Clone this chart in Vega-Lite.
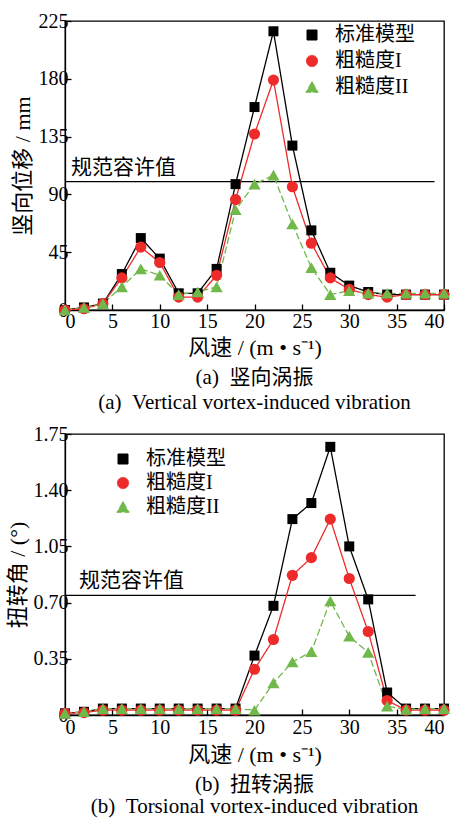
{
  "$schema": "https://vega.github.io/schema/vega-lite/v6.json",
  "padding": {"left": 5, "top": 10, "right": 5, "bottom": 2},
  "background": "white",
  "spacing": 9,
  "config": {
    "view": {"stroke": "black", "strokeWidth": 1.3},
    "axis": {
      "grid": false, "domainColor": "black", "domainWidth": 1.3, "tickColor": "black", "tickWidth": 1.3,
      "tickSize": -6, "labelColor": "black", "titleColor": "black",
      "labelFont": "Liberation Serif", "labelFontSize": 20, "labelPadding": 3,
      "titleFont": "Liberation Serif, Noto Sans CJK SC", "titleFontSize": 22, "titleFontWeight": "normal"
    },
    "axisX": {"labelPadding": 7, "titlePadding": 6},
    "axisY": {"titlePadding": 4},
    "legend": {
      "orient": "none", "title": null, "padding": 0,
      "labelFont": "Liberation Serif, Noto Sans CJK SC", "labelFontSize": 20, "labelColor": "black",
      "symbolSize": 49, "labelOffset": 13, "symbolStrokeWidth": 1
    },
    "title": {"orient": "bottom", "anchor": "middle", "font": "Liberation Serif, Noto Sans CJK SC", "fontSize": 21, "fontWeight": "normal", "color": "black",
      "subtitleFont": "Liberation Serif", "subtitleFontSize": 21, "subtitleColor": "black", "subtitlePadding": 4, "offset": 9}
  },
  "datasets": {
    "vert": [
      {"v":0,"s":"标准模型","d":0},{"v":2,"s":"标准模型","d":2},{"v":4,"s":"标准模型","d":5},{"v":6,"s":"标准模型","d":28},{"v":8,"s":"标准模型","d":56},{"v":10,"s":"标准模型","d":40},{"v":12,"s":"标准模型","d":13},{"v":14,"s":"标准模型","d":13},{"v":16,"s":"标准模型","d":32},{"v":18,"s":"标准模型","d":98},{"v":20,"s":"标准模型","d":158},{"v":22,"s":"标准模型","d":217},{"v":24,"s":"标准模型","d":128},{"v":26,"s":"标准模型","d":62},{"v":28,"s":"标准模型","d":29},{"v":30,"s":"标准模型","d":19},{"v":32,"s":"标准模型","d":14},{"v":34,"s":"标准模型","d":12},{"v":36,"s":"标准模型","d":12},{"v":38,"s":"标准模型","d":12},{"v":40,"s":"标准模型","d":12},
      {"v":0,"s":"粗糙度I","d":0},{"v":2,"s":"粗糙度I","d":1},{"v":4,"s":"粗糙度I","d":5},{"v":6,"s":"粗糙度I","d":25},{"v":8,"s":"粗糙度I","d":49},{"v":10,"s":"粗糙度I","d":37},{"v":12,"s":"粗糙度I","d":10},{"v":14,"s":"粗糙度I","d":10},{"v":16,"s":"粗糙度I","d":27},{"v":18,"s":"粗糙度I","d":86},{"v":20,"s":"粗糙度I","d":137},{"v":22,"s":"粗糙度I","d":179},{"v":24,"s":"粗糙度I","d":96},{"v":26,"s":"粗糙度I","d":52},{"v":28,"s":"粗糙度I","d":25},{"v":30,"s":"粗糙度I","d":16},{"v":32,"s":"粗糙度I","d":12},{"v":34,"s":"粗糙度I","d":10},{"v":36,"s":"粗糙度I","d":12},{"v":38,"s":"粗糙度I","d":12},{"v":40,"s":"粗糙度I","d":12},
      {"v":0,"s":"粗糙度II","d":0},{"v":2,"s":"粗糙度II","d":2},{"v":4,"s":"粗糙度II","d":5},{"v":6,"s":"粗糙度II","d":18},{"v":8,"s":"粗糙度II","d":32},{"v":10,"s":"粗糙度II","d":27},{"v":12,"s":"粗糙度II","d":12},{"v":14,"s":"粗糙度II","d":14},{"v":16,"s":"粗糙度II","d":18},{"v":18,"s":"粗糙度II","d":78},{"v":20,"s":"粗糙度II","d":98},{"v":22,"s":"粗糙度II","d":105},{"v":24,"s":"粗糙度II","d":67},{"v":26,"s":"粗糙度II","d":33},{"v":28,"s":"粗糙度II","d":12},{"v":30,"s":"粗糙度II","d":15},{"v":32,"s":"粗糙度II","d":13},{"v":34,"s":"粗糙度II","d":13},{"v":36,"s":"粗糙度II","d":13},{"v":38,"s":"粗糙度II","d":13},{"v":40,"s":"粗糙度II","d":13}
    ],
    "tors": [
      {"v":0,"s":"标准模型","d":0.01},{"v":2,"s":"标准模型","d":0.02},{"v":4,"s":"标准模型","d":0.04},{"v":6,"s":"标准模型","d":0.04},{"v":8,"s":"标准模型","d":0.04},{"v":10,"s":"标准模型","d":0.04},{"v":12,"s":"标准模型","d":0.04},{"v":14,"s":"标准模型","d":0.04},{"v":16,"s":"标准模型","d":0.04},{"v":18,"s":"标准模型","d":0.04},{"v":20,"s":"标准模型","d":0.37},{"v":22,"s":"标准模型","d":0.68},{"v":24,"s":"标准模型","d":1.22},{"v":26,"s":"标准模型","d":1.32},{"v":28,"s":"标准模型","d":1.67},{"v":30,"s":"标准模型","d":1.05},{"v":32,"s":"标准模型","d":0.72},{"v":34,"s":"标准模型","d":0.14},{"v":36,"s":"标准模型","d":0.04},{"v":38,"s":"标准模型","d":0.04},{"v":40,"s":"标准模型","d":0.04},
      {"v":0,"s":"粗糙度I","d":0.01},{"v":2,"s":"粗糙度I","d":0.015},{"v":4,"s":"粗糙度I","d":0.03},{"v":6,"s":"粗糙度I","d":0.03},{"v":8,"s":"粗糙度I","d":0.03},{"v":10,"s":"粗糙度I","d":0.03},{"v":12,"s":"粗糙度I","d":0.03},{"v":14,"s":"粗糙度I","d":0.03},{"v":16,"s":"粗糙度I","d":0.03},{"v":18,"s":"粗糙度I","d":0.03},{"v":20,"s":"粗糙度I","d":0.285},{"v":22,"s":"粗糙度I","d":0.47},{"v":24,"s":"粗糙度I","d":0.87},{"v":26,"s":"粗糙度I","d":0.98},{"v":28,"s":"粗糙度I","d":1.22},{"v":30,"s":"粗糙度I","d":0.85},{"v":32,"s":"粗糙度I","d":0.52},{"v":34,"s":"粗糙度I","d":0.09},{"v":36,"s":"粗糙度I","d":0.03},{"v":38,"s":"粗糙度I","d":0.03},{"v":40,"s":"粗糙度I","d":0.03},
      {"v":0,"s":"粗糙度II","d":0.01},{"v":2,"s":"粗糙度II","d":0.02},{"v":4,"s":"粗糙度II","d":0.04},{"v":6,"s":"粗糙度II","d":0.04},{"v":8,"s":"粗糙度II","d":0.04},{"v":10,"s":"粗糙度II","d":0.04},{"v":12,"s":"粗糙度II","d":0.04},{"v":14,"s":"粗糙度II","d":0.04},{"v":16,"s":"粗糙度II","d":0.04},{"v":18,"s":"粗糙度II","d":0.04},{"v":20,"s":"粗糙度II","d":0.03},{"v":22,"s":"粗糙度II","d":0.2},{"v":24,"s":"粗糙度II","d":0.33},{"v":26,"s":"粗糙度II","d":0.395},{"v":28,"s":"粗糙度II","d":0.71},{"v":30,"s":"粗糙度II","d":0.49},{"v":32,"s":"粗糙度II","d":0.39},{"v":34,"s":"粗糙度II","d":0.055},{"v":36,"s":"粗糙度II","d":0.035},{"v":38,"s":"粗糙度II","d":0.04},{"v":40,"s":"粗糙度II","d":0.04}
    ],
    "limV": [{"x0": 0, "x1": 39, "y": 100, "label": "规范容许值"}],
    "limT": [{"x0": 0, "x1": 37, "y": 0.745, "label": "规范容许值"}]
  },
  "resolve": {"scale": {"color": "independent", "shape": "independent", "size": "independent", "strokeDash": "independent"}, "legend": {"color": "independent"}},
  "vconcat": [
    {
      "width": 379, "height": 289,
      "title": {"text": "(a)\u00a0\u00a0竖向涡振", "subtitle": "(a)\u00a0\u00a0Vertical vortex-induced vibration"},
      "layer": [
        {"data": {"name": "limV"}, "mark": {"type": "rule", "color": "black", "strokeWidth": 1.3},
         "encoding": {"x": {"field": "x0", "type": "quantitative", "scale": {"domain": [0, 40]}}, "x2": {"field": "x1"}, "y": {"field": "y", "type": "quantitative", "scale": {"domain": [0, 225]}}}},
        {"data": {"name": "limV"}, "mark": {"type": "text", "align": "left", "baseline": "bottom", "dx": 6, "dy": -4, "font": "Noto Sans CJK SC", "fontSize": 21, "color": "black"},
         "encoding": {"x": {"field": "x0", "type": "quantitative"}, "y": {"field": "y", "type": "quantitative"}, "text": {"field": "label"}}},
        {"data": {"name": "vert"}, "mark": {"type": "line", "strokeWidth": 1.3},
         "encoding": {
           "x": {"field": "v", "type": "quantitative", "scale": {"domain": [0, 40], "nice": false}, "axis": {"values": [0,5,10,15,20,25,30,35,40], "title": "风速 / (m • s⁻¹)"}},
           "y": {"field": "d", "type": "quantitative", "scale": {"domain": [0, 225], "nice": false}, "axis": {"values": [0,45,90,135,180,225], "title": "竖向位移 / mm"}},
           "color": {"field": "s", "type": "nominal", "scale": {"domain": ["标准模型", "粗糙度I", "粗糙度II"], "range": ["#000000", "#ee2b2b", "#71b84b"]}},
           "strokeDash": {"field": "s", "type": "nominal", "scale": {"domain": ["标准模型", "粗糙度I", "粗糙度II"], "range": [[1, 0], [1, 0], [7, 3]]}, "legend": null}
         }},
        {"data": {"name": "vert"}, "mark": {"type": "point", "filled": true, "opacity": 1},
         "encoding": {
           "x": {"field": "v", "type": "quantitative"},
           "y": {"field": "d", "type": "quantitative"},
           "color": {"field": "s", "type": "nominal", "scale": {"domain": ["标准模型", "粗糙度I", "粗糙度II"], "range": ["#000000", "#ee2b2b", "#71b84b"]},
             "legend": {"legendX": 237, "legendY": 4, "rowPadding": 6, "labelFontSize": 20,
               "encode": {"symbols": {
                 "shape": {"condition": [{"test": "datum.value === '标准模型'", "value": "M-5.7,-0.12H5.7V0.12H-5.7ZM-1,-1H1V1H-1Z"}, {"test": "datum.value === '粗糙度I'", "value": "M-5.7,-0.12H5.7V0.12H-5.7ZM-1.3,0C-1.3,-0.718,-0.718,-1.3,0,-1.3C0.718,-1.3,1.3,-0.718,1.3,0C1.3,0.718,0.718,1.3,0,1.3C-0.718,1.3,-1.3,0.718,-1.3,0Z"}], "value": "M-5.7,-0.12H5.7V0.12H-5.7ZM0,-1.45L1.6,1.2H-1.6Z"},
                 "stroke": {"condition": [{"test": "datum.value === '标准模型'", "value": "#000000"}, {"test": "datum.value === '粗糙度I'", "value": "#ee2b2b"}], "value": "#71b84b"},
                 "fill": {"condition": [{"test": "datum.value === '标准模型'", "value": "#000000"}, {"test": "datum.value === '粗糙度I'", "value": "#ee2b2b"}], "value": "#71b84b"},
                 "strokeWidth": {"value": 0.8}, "opacity": {"value": 1}}}}},
           "shape": {"field": "s", "type": "nominal", "scale": {"domain": ["标准模型", "粗糙度I", "粗糙度II"], "range": ["square", "circle", "triangle-up"]}, "legend": null},
           "size": {"field": "s", "type": "nominal", "scale": {"domain": ["标准模型", "粗糙度I", "粗糙度II"], "range": [100, 150, 140]}, "legend": null}
         }}
      ]
    },
    {
      "width": 379, "height": 281,
      "title": {"text": "(b)\u00a0\u00a0扭转涡振", "subtitle": "(b)\u00a0\u00a0Torsional vortex-induced vibration", "offset": 9, "subtitlePadding": 1},
      "layer": [
        {"data": {"name": "limT"}, "mark": {"type": "rule", "color": "black", "strokeWidth": 1.3},
         "encoding": {"x": {"field": "x0", "type": "quantitative", "scale": {"domain": [0, 40]}}, "x2": {"field": "x1"}, "y": {"field": "y", "type": "quantitative", "scale": {"domain": [0, 1.75]}}}},
        {"data": {"name": "limT"}, "mark": {"type": "text", "align": "left", "baseline": "bottom", "dx": 14, "dy": -4, "font": "Noto Sans CJK SC", "fontSize": 21, "color": "black"},
         "encoding": {"x": {"field": "x0", "type": "quantitative"}, "y": {"field": "y", "type": "quantitative"}, "text": {"field": "label"}}},
        {"data": {"name": "tors"}, "mark": {"type": "line", "strokeWidth": 1.3},
         "encoding": {
           "x": {"field": "v", "type": "quantitative", "scale": {"domain": [0, 40], "nice": false}, "axis": {"values": [0,5,10,15,20,25,30,35,40], "title": "风速 / (m • s⁻¹)", "labelPadding": 8, "titlePadding": 7}},
           "y": {"field": "d", "type": "quantitative", "scale": {"domain": [0, 1.75], "nice": false}, "axis": {"values": [0,0.35,0.7,1.05,1.4,1.75], "labelExpr": "datum.value === 0 ? '0' : format(datum.value, '.2f')", "title": "扭转角 / (°)"}},
           "color": {"field": "s", "type": "nominal", "scale": {"domain": ["标准模型", "粗糙度I", "粗糙度II"], "range": ["#000000", "#ee2b2b", "#71b84b"]}},
           "strokeDash": {"field": "s", "type": "nominal", "scale": {"domain": ["标准模型", "粗糙度I", "粗糙度II"], "range": [[1, 0], [1, 0], [7, 3]]}, "legend": null}
         }},
        {"data": {"name": "tors"}, "mark": {"type": "point", "filled": true, "opacity": 1},
         "encoding": {
           "x": {"field": "v", "type": "quantitative"},
           "y": {"field": "d", "type": "quantitative"},
           "color": {"field": "s", "type": "nominal", "scale": {"domain": ["标准模型", "粗糙度I", "粗糙度II"], "range": ["#000000", "#ee2b2b", "#71b84b"]},
             "legend": {"legendX": 48, "legendY": 15, "rowPadding": 4, "labelFontSize": 20,
               "encode": {"symbols": {
                 "shape": {"condition": [{"test": "datum.value === '标准模型'", "value": "M-5.7,-0.12H5.7V0.12H-5.7ZM-1,-1H1V1H-1Z"}, {"test": "datum.value === '粗糙度I'", "value": "M-5.7,-0.12H5.7V0.12H-5.7ZM-1.3,0C-1.3,-0.718,-0.718,-1.3,0,-1.3C0.718,-1.3,1.3,-0.718,1.3,0C1.3,0.718,0.718,1.3,0,1.3C-0.718,1.3,-1.3,0.718,-1.3,0Z"}], "value": "M-5.7,-0.12H5.7V0.12H-5.7ZM0,-1.45L1.6,1.2H-1.6Z"},
                 "stroke": {"condition": [{"test": "datum.value === '标准模型'", "value": "#000000"}, {"test": "datum.value === '粗糙度I'", "value": "#ee2b2b"}], "value": "#71b84b"},
                 "fill": {"condition": [{"test": "datum.value === '标准模型'", "value": "#000000"}, {"test": "datum.value === '粗糙度I'", "value": "#ee2b2b"}], "value": "#71b84b"},
                 "strokeWidth": {"value": 0.8}, "opacity": {"value": 1}}}}},
           "shape": {"field": "s", "type": "nominal", "scale": {"domain": ["标准模型", "粗糙度I", "粗糙度II"], "range": ["square", "circle", "triangle-up"]}, "legend": null},
           "size": {"field": "s", "type": "nominal", "scale": {"domain": ["标准模型", "粗糙度I", "粗糙度II"], "range": [100, 150, 140]}, "legend": null}
         }}
      ]
    }
  ]
}
